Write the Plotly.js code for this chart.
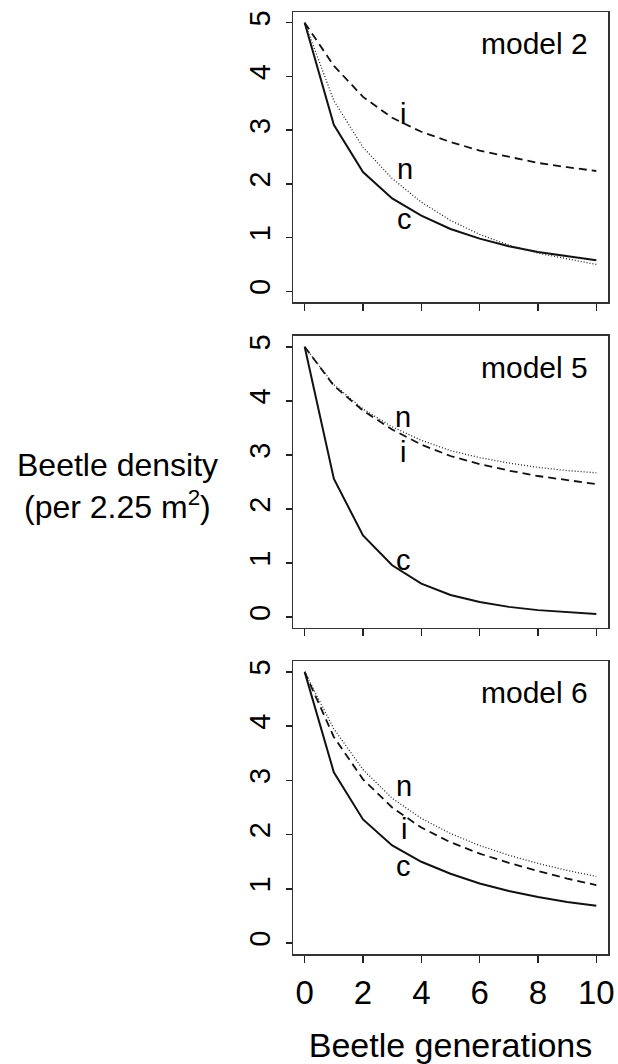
<!DOCTYPE html>
<html>
<head>
<meta charset="utf-8">
<script src="https://cdn.plot.ly/plotly-3.0.1.min.js"></script>
<style>
html,body{margin:0;padding:0;background:#fff;}
#chart{width:618px;height:1064px;}
</style>
</head>
<body>
<div id="chart"></div>
<script>
// Beetle generations
const generations = [0,1,2,3,4,5,6,7,8,9,10];

// model 2
const m2_c = [5, 3.10, 2.22, 1.73, 1.41, 1.16, 0.98, 0.84, 0.73, 0.66, 0.58];
const m2_i = [5, 4.20, 3.62, 3.23, 2.97, 2.78, 2.62, 2.50, 2.39, 2.31, 2.24];
const m2_n = [5, 3.55, 2.68, 2.10, 1.66, 1.32, 1.06, 0.86, 0.71, 0.60, 0.50];

// model 5
const m5_c = [5, 2.56, 1.51, 0.96, 0.62, 0.41, 0.28, 0.19, 0.13, 0.09, 0.06];
const m5_i = [5, 4.28, 3.82, 3.47, 3.19, 2.98, 2.83, 2.71, 2.61, 2.53, 2.46];
const m5_n = [5, 4.30, 3.85, 3.52, 3.27, 3.08, 2.95, 2.85, 2.77, 2.71, 2.67];

// model 6
const m6_c = [5, 3.15, 2.28, 1.80, 1.50, 1.28, 1.10, 0.96, 0.85, 0.76, 0.69];
const m6_i = [5, 3.80, 3.02, 2.50, 2.13, 1.86, 1.65, 1.48, 1.33, 1.19, 1.07];
const m6_n = [5, 3.95, 3.20, 2.67, 2.30, 2.02, 1.80, 1.62, 1.47, 1.34, 1.23];

const panelNames = ["model 2", "model 5", "model 6"];
const yTicks = [0,1,2,3,4,5];
const xTicks = [0,2,4,6,8,10];
const xTitle = "Beetle generations";
const yTitle1 = "Beetle density";
const yTitle2 = "(per 2.25 m<sup>2</sup>)";

// curve labels: [panel, text, x, y]
const curveLabels = [
  [0, "i", 3.38, 3.30], [0, "n", 3.45, 2.27], [0, "c", 3.42, 1.35],
  [1, "n", 3.38, 3.70], [1, "i", 3.38, 3.05], [1, "c", 3.38, 1.05],
  [2, "n", 3.40, 2.89], [2, "i", 3.40, 2.10], [2, "c", 3.40, 1.42]
];

const series = [
  [m2_c, m2_i, m2_n],
  [m5_c, m5_i, m5_n],
  [m6_c, m6_i, m6_n]
];

const FONT = "Liberation Sans, Arial, sans-serif";
const styles = [
  {color:"#111", width:2.0, dash:"solid"},
  {color:"#111", width:1.8, dash:"8px,5px"},
  {color:"#222", width:1.3, dash:"1px,2px"}
];

const traces = [];
series.forEach((grp, p) => {
  const ax = p === 0 ? "" : String(p+1);
  grp.forEach((ys, k) => {
    traces.push({
      x: generations, y: ys, type: "scatter", mode: "lines",
      xaxis: "x"+ax, yaxis: "y"+ax,
      line: Object.assign({shape:"linear"}, styles[k]),
      hoverinfo: "skip", showlegend: false
    });
  });
});

const domains = [[0.6921, 1.0], [0.3461, 0.6561], [0.0, 0.3110]];

const layout = {
  width: 618, height: 1064,
  margin: {l: 293, r: 10, t: 12, b: 110},
  paper_bgcolor: "#fff", plot_bgcolor: "#fff",
  showlegend: false,
  font: {family: FONT, color: "#000"},
  annotations: []
};

for (let p = 0; p < 3; p++) {
  const ax = p === 0 ? "" : String(p+1);
  const xa = {
    domain: [0,1], anchor: "y"+ax, range: [-0.4, 10.4],
    tickmode: "array", tickvals: xTicks, ticktext: xTicks.map(String),
    showticklabels: p === 2,
    ticks: "outside", ticklen: 7, tickwidth: 1.5, tickcolor: "#222",
    showline: true, mirror: true, linecolor: "#333", linewidth: 1.5,
    showgrid: false, zeroline: false,
    tickfont: {family: FONT, size: 33, color: "#000"},
    ticklabelstandoff: 2
  };
  if (p === 2) {
    xa.title = {text: xTitle, font: {family: FONT, size: 34, color: "#000"}, standoff: 28};
  }
  const ya = {
    domain: domains[p], anchor: "x"+ax, range: [-0.2, 5.2],
    tickmode: "array", tickvals: yTicks, ticktext: yTicks.map(String),
    ticks: "outside", ticklen: 6, tickwidth: 1.5, tickcolor: "#222",
    tickangle: -90,
    showline: true, mirror: true, linecolor: "#333", linewidth: 1.5,
    showgrid: false, zeroline: false,
    tickfont: {family: FONT, size: 29, color: "#000"},
    ticklabelstandoff: 4
  };
  layout["xaxis"+ax] = xa;
  layout["yaxis"+ax] = ya;

  layout.annotations.push({
    xref: "x"+ax, yref: "y"+ax, x: 9.78, y: 4.62,
    xanchor: "right", yanchor: "middle", showarrow: false,
    text: panelNames[p], font: {family: FONT, size: 30, color: "#000"}
  });
}

curveLabels.forEach(([p, t, x, y]) => {
  const ax = p === 0 ? "" : String(p+1);
  layout.annotations.push({
    xref: "x"+ax, yref: "y"+ax, x: x, y: y,
    xanchor: "center", yanchor: "middle", showarrow: false,
    text: t, font: {family: FONT, size: 29, color: "#000"}
  });
});

layout.annotations.push({
  xref: "paper", yref: "paper", x: -0.556, y: (954-465)/942,
  xanchor: "center", yanchor: "middle", showarrow: false, borderpad: 0,
  text: yTitle1, font: {family: FONT, size: 32, color: "#000"}
});
layout.annotations.push({
  xref: "paper", yref: "paper", x: -0.556, y: (954-505)/942,
  xanchor: "center", yanchor: "middle", showarrow: false, borderpad: 0,
  text: yTitle2, font: {family: FONT, size: 32, color: "#000"}
});

Plotly.newPlot("chart", traces, layout, {staticPlot: true, displayModeBar: false});
</script>
</body>
</html>
